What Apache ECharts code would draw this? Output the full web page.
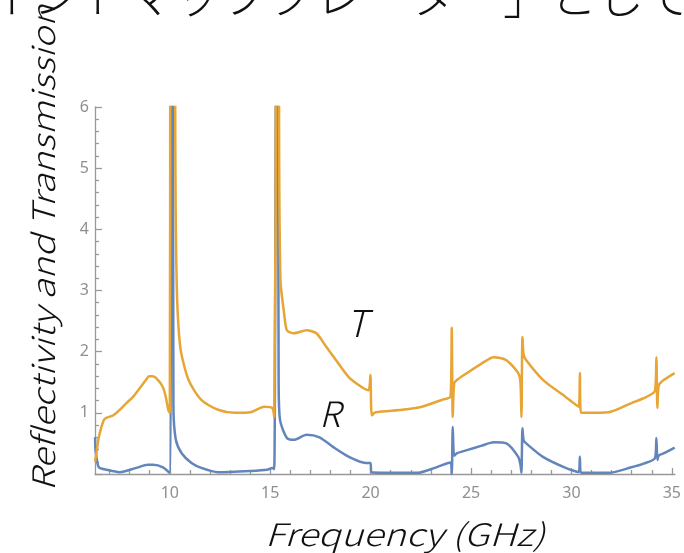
<!DOCTYPE html>
<html>
<head>
<meta charset="utf-8">
<script src="https://cdn.jsdelivr.net/npm/echarts@6/dist/echarts.min.js"></script>
<style>
  html, body { margin: 0; padding: 0; background: #fff; }
  #chart { width: 684px; height: 553px; }
</style>
</head>
<body>
<div id="chart"></div>
<script>
// Transmission T (orange)
const tFreq = [6.28, 6.35, 6.47, 6.71, 6.86, 7.19, 7.51, 7.84, 8.17, 8.5, 8.82, 8.97, 9.12, 9.31, 9.64, 9.8, 9.92, 10.0,
  10.02, 10.15, 10.27, 10.34, 10.52, 10.93, 11.57, 12.4, 13.24, 14.02, 14.7, 15.1, 15.2,
  15.29, 15.36, 15.44, 15.51, 15.69, 15.83, 16.18, 16.81, 17.3, 17.79, 18.28, 18.92, 19.61, 19.9,
  19.99, 20.06, 20.25, 21.57, 22.55, 23.53, 23.98,
  24.04, 24.09, 24.16, 24.31, 24.8, 25.5, 26.13, 26.76, 27.35, 27.46,
  27.51, 27.56, 27.62, 27.75, 28.58, 29.71, 30.36,
  30.42, 30.47, 30.69, 31.86, 32.99, 33.6, 34.16,
  34.23, 34.28, 34.35, 34.61, 35.14];
const tVal = [0.2, 0.35, 0.61, 0.88, 0.92, 0.96, 1.05, 1.16, 1.26, 1.4, 1.54, 1.6, 1.6, 1.57, 1.43, 1.26, 1.05, 1.0,
  7, 40, 6, 3.17, 2.08, 1.54, 1.21, 1.05, 1.0, 1.01, 1.1, 1.08, 0.93,
  7, 40, 6, 3.17, 2.63, 2.35, 2.3, 2.35, 2.3, 2.08, 1.86, 1.58, 1.41, 1.37,
  1.62, 0.96, 1.01, 1.05, 1.1, 1.21, 1.27,
  2.39, 0.93, 1.48, 1.54, 1.65, 1.8, 1.91, 1.86, 1.65, 1.5,
  0.93, 2.24, 1.95, 1.86, 1.54, 1.26, 1.1,
  1.65, 1.0, 1.0, 1.01, 1.16, 1.24, 1.36,
  1.91, 1.08, 1.45, 1.54, 1.65];

// Reflectivity R (blue)
const rFreq = [6.28, 6.3, 6.37, 6.47, 6.86, 7.5, 8.33, 8.9, 9.17, 9.66, 9.98,
  10.1, 10.15, 10.18, 10.3, 10.59, 11.08, 11.57, 12.4, 14.02, 14.85, 15.1, 15.2,
  15.31, 15.37, 15.42, 15.49, 15.83, 16.18, 16.81, 17.45, 18.14, 18.92, 19.75, 19.99,
  20.04, 21.52, 22.35, 23.19, 23.97,
  24.04, 24.09, 24.16, 24.31, 24.8, 25.5, 26.13, 26.76, 27.35, 27.46,
  27.51, 27.56, 27.62, 27.75, 28.58, 29.71, 30.36,
  30.42, 30.47, 30.69, 31.86, 32.99, 33.6, 34.16,
  34.23, 34.28, 34.35, 34.61, 35.14];
const rVal = [0.6, 0.4, 0.23, 0.11, 0.07, 0.03, 0.1, 0.15, 0.15, 0.11, 0.02,
  8, 8, 1.1, 0.56, 0.34, 0.18, 0.1, 0.03, 0.05, 0.07, 0.1, 0.08,
  8, 8, 1.5, 0.88, 0.59, 0.56, 0.64, 0.6, 0.44, 0.28, 0.18, 0.18,
  0.03, 0.02, 0.02, 0.1, 0.19,
  0.0, 0.77, 0.3, 0.34, 0.39, 0.46, 0.52, 0.5, 0.28, 0.15,
  0.02, 0.75, 0.55, 0.5, 0.28, 0.1, 0.03,
  0.28, 0.02, 0.02, 0.02, 0.11, 0.17, 0.26,
  0.59, 0.23, 0.3, 0.34, 0.43];

const xMajor = [10, 15, 20, 25, 30, 35];
const xMinor = [7, 8, 9, 11, 12, 13, 14, 16, 17, 18, 19, 21, 22, 23, 24, 26, 27, 28, 29, 31, 32, 33, 34];

const pairs = (xs, ys) => xs.map((x, i) => [x, ys[i]]);

const AXIS_GRAY = '#999999';
const LABEL_GRAY = '#8f8f8f';
const textFont = '"Noto Sans CJK JP", "Noto Sans", sans-serif';

const chart = echarts.init(document.getElementById('chart'), null, { renderer: 'canvas' });

const option = {
  animation: false,
  grid: { left: 95, top: 107, width: 589, height: 367, containLabel: false },
  xAxis: [
    {
      type: 'value',
      min: 6.275,
      max: 35.15,
      position: 'bottom',
      axisLine: { lineStyle: { color: AXIS_GRAY, width: 1.3 } },
      axisTick: { inside: true, length: 6, customValues: xMajor, lineStyle: { color: AXIS_GRAY, width: 1.3 } },
      axisLabel: { customValues: xMajor, color: LABEL_GRAY, fontSize: 16, margin: 11, fontFamily: 'Noto Sans' },
      splitLine: { show: false },
    },
    {
      // minor ticks only
      type: 'value',
      min: 6.275,
      max: 35.15,
      position: 'bottom',
      axisLine: { show: false },
      axisTick: { inside: true, length: 4, customValues: xMinor, lineStyle: { color: AXIS_GRAY, width: 1.3 } },
      axisLabel: { show: false },
      splitLine: { show: false },
    },
  ],
  yAxis: {
    type: 'value',
    min: 0,
    max: 6,
    interval: 1,
    axisLine: { show: true, lineStyle: { color: AXIS_GRAY, width: 1.3 } },
    axisTick: { show: true, inside: true, length: 7, lineStyle: { color: AXIS_GRAY, width: 1.3 } },
    minorTick: { show: true, splitNumber: 5, length: 4, lineStyle: { color: AXIS_GRAY, width: 1.3 } },
    axisLabel: {
      color: LABEL_GRAY, fontSize: 16, margin: 6, fontFamily: 'Noto Sans',
      formatter: (v) => (v === 0 ? '' : String(v)),
    },
    splitLine: { show: false },
  },
  series: [
    {
      name: 'R',
      type: 'line',
      data: pairs(rFreq, rVal),
      showSymbol: false,
      clip: true,
      smooth: 0.25,
      lineStyle: { color: '#6285bb', width: 2.5 },
    },
    {
      name: 'T',
      type: 'line',
      data: pairs(tFreq, tVal),
      showSymbol: false,
      clip: true,
      smooth: 0.25,
      lineStyle: { color: '#e6a535', width: 2.5 },
    },
  ],
  graphic: [
    {
      type: 'text', left: -14, top: -28,
      style: { text: 'イントマップクレーター」として', fontSize: 47, fontWeight: 300, fontFamily: '"Noto Sans CJK JP"', fill: '#111' },
    },
    {
      // stretched along the text to match the wide original face
      type: 'text', x: 43, y: 248, rotation: Math.PI / 2, scaleX: 1.2,
      style: {
        text: 'Reflectivity and Transmission', fontSize: 31, fontStyle: 'italic', fontWeight: 300,
        fontFamily: textFont, fill: '#111', align: 'center', verticalAlign: 'middle',
      },
    },
    {
      type: 'text', x: 405, y: 534, scaleX: 1.22,
      style: {
        text: 'Frequency (GHz)', fontSize: 31, fontStyle: 'italic', fontWeight: 300,
        fontFamily: textFont, fill: '#111', align: 'center', verticalAlign: 'middle',
      },
    },
    {
      type: 'text', x: 357, y: 323,
      style: { text: 'T', fontSize: 37, fontStyle: 'italic', fontWeight: 300, fontFamily: textFont, fill: '#111', align: 'center', verticalAlign: 'middle' },
    },
    {
      type: 'text', x: 330, y: 414,
      style: { text: 'R', fontSize: 35, fontStyle: 'italic', fontWeight: 300, fontFamily: textFont, fill: '#111', align: 'center', verticalAlign: 'middle' },
    },
  ],
};

chart.setOption(option);
</script>
</body>
</html>
